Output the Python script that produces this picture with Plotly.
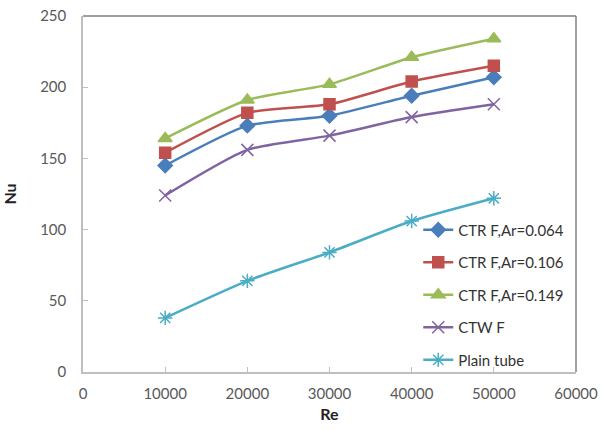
import plotly.graph_objects as go

re_vals = [10000, 20000, 30000, 40000, 50000]
nu_ar064 = [145, 173, 180, 194, 207]
nu_ar106 = [154, 182, 188, 204, 215]
nu_ar149 = [164, 191, 202, 221, 234]
nu_ctw = [124, 156, 166, 179, 188]
nu_plain = [38, 64, 84, 106, 122]

series = [
    ("CTR F,Ar=0.064", nu_ar064, "#4A7EBB", "diamond", 11),
    ("CTR F,Ar=0.106", nu_ar106, "#C0504D", "square", 11),
    ("CTR F,Ar=0.149", nu_ar149, "#9BBB59", "triangle-up", 12),
    ("CTW F", nu_ctw, "#8064A2", "x-thin-open", 12),
    ("Plain tube", nu_plain, "#4BACC6", "asterisk-open", 12),
]

fig = go.Figure()
for i, (name, ys, col, sym, sz) in enumerate(series):
    fig.add_trace(go.Scatter(
        x=re_vals, y=ys, name=name, mode="lines+markers",
        line=dict(color=col, width=2.5, shape="spline", smoothing=0.6),
        marker=dict(symbol=sym, size=sz, color=col, line=dict(color=col, width=1.5)),
        legendgroup=f"g{i}",
    ))

fam = "Lato, Liberation Sans, Arial, sans-serif"
axis_font = dict(family=fam, size=15, color="#595959")

fig.update_layout(
    width=601, height=430,
    margin=dict(l=83, r=25, t=16, b=58),
    paper_bgcolor="white", plot_bgcolor="white",
    showlegend=True,
    legend=dict(
        x=0.68, y=0.445, xanchor="left", yanchor="top",
        bgcolor="rgba(255,255,255,0)",
        font=dict(family=fam, size=15, color="#333333"),
        traceorder="grouped", tracegroupgap=10,
        itemwidth=30,
    ),
    xaxis=dict(
        range=[0, 60000], dtick=10000, tickformat="d",
        showgrid=False, zeroline=False, automargin=False,
        showline=True, linecolor="#BFBFBF", linewidth=1.5,
        ticks="inside", ticklen=5, tickcolor="#BFBFBF",
        tickfont=axis_font, ticklabelstandoff=7,
        title=dict(text="<b>Re</b>", font=dict(family=fam, size=16, color="#222222"), standoff=8),
    ),
    yaxis=dict(
        range=[0, 250], dtick=50,
        showgrid=False, zeroline=False, automargin=False,
        showline=True, linecolor="#BFBFBF", linewidth=1.5,
        ticks="inside", ticklen=5, tickcolor="#BFBFBF",
        tickfont=axis_font, ticklabelstandoff=12,
        title=dict(text="<b>Nu</b>", font=dict(family=fam, size=16, color="#222222"), standoff=20),
    ),
    shapes=[
        dict(type="line", xref="paper", yref="paper", x0=0, x1=1, y0=1, y1=1,
             line=dict(color="#808080", width=1.5)),
        dict(type="line", xref="paper", yref="paper", x0=1, x1=1, y0=0, y1=1,
             line=dict(color="#808080", width=1.5)),
    ],
)

fig.write_html("out.html")
